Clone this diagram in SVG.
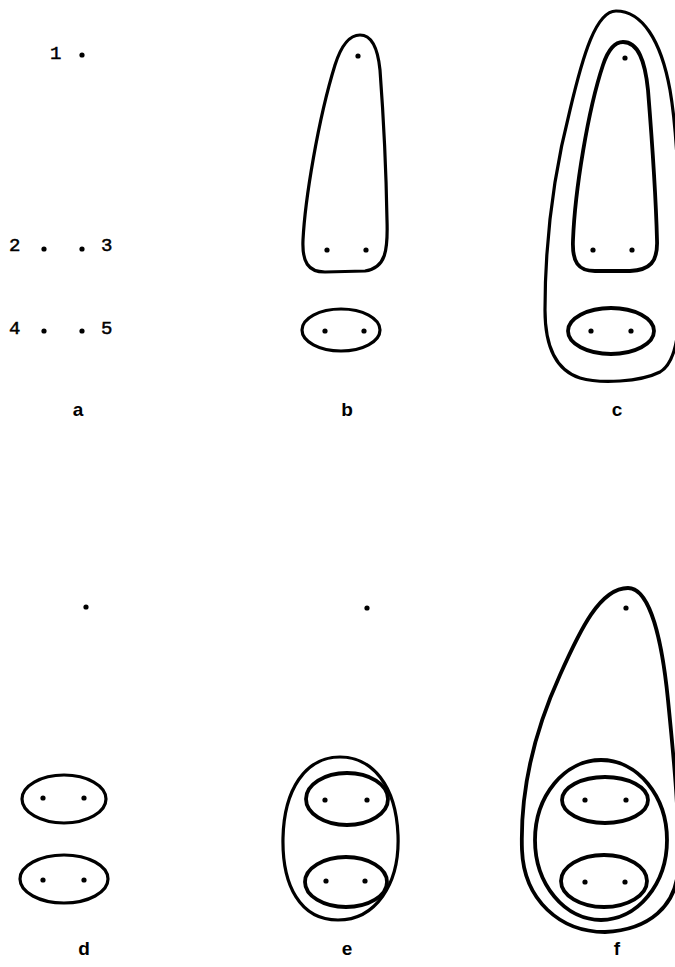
<svg xmlns="http://www.w3.org/2000/svg" width="675" height="967" viewBox="0 0 675 967">
<style>
.ln{fill:none;stroke:#000;stroke-width:3.2;stroke-linejoin:round}
.thk{stroke-width:3.8}
.dot{fill:#000}
.num{font-family:"Liberation Mono","Courier New",monospace;font-size:19px;fill:#000;stroke:#000;stroke-width:0.5}
.lab{font-family:"Liberation Sans",Arial,sans-serif;font-weight:bold;font-size:19px;fill:#000;text-anchor:middle}
</style>
<rect width="675" height="967" fill="#fff"/>
<g id="panel-a">
<text class="num" x="50" y="59">1</text>
<circle class="dot" cx="82" cy="55" r="2.6"/>
<text class="num" x="9" y="251">2</text>
<circle class="dot" cx="44" cy="249" r="2.6"/>
<circle class="dot" cx="82" cy="249" r="2.6"/>
<text class="num" x="101" y="251">3</text>
<text class="num" x="9" y="334">4</text>
<circle class="dot" cx="44" cy="331" r="2.6"/>
<circle class="dot" cx="82" cy="331" r="2.6"/>
<text class="num" x="101" y="334">5</text>
<text class="lab" x="78" y="416">a</text>
</g>
<g id="panel-b">
<path class="ln" d="M360 35 C372 35 378 50 380 70 C383 110 386 160 387 220 C388 250 386 268 365 271 L325 272 C308 272 302 262 303 240 C305 200 318 120 335 65 C342 43 350 35 360 35 Z"/>
<circle class="dot" cx="358" cy="56" r="2.6"/>
<circle class="dot" cx="327" cy="250" r="2.6"/>
<circle class="dot" cx="366" cy="250" r="2.6"/>
<ellipse class="ln" cx="341" cy="330" rx="39" ry="21"/>
<circle class="dot" cx="325" cy="331" r="2.6"/>
<circle class="dot" cx="364" cy="331" r="2.6"/>
<text class="lab" x="347" y="416">b</text>
</g>
<g id="panel-c">
<path class="ln" d="M616 11 C642 11 661 40 670 90 C677 130 680 200 680 260 C680 320 680 360 660 372 C640 382 600 384 580 378 C555 370 545 345 545 310 C545 250 552 180 570 110 C583 55 596 11 616 11 Z"/>
<path class="ln thk" d="M623 42 C638 42 645 60 648 90 C652 140 656 200 657 240 C658 262 650 270 630 271 L595 271 C578 271 572 262 573 240 C575 190 588 110 603 65 C608 50 615 42 623 42 Z"/>
<circle class="dot" cx="625" cy="58" r="2.6"/>
<circle class="dot" cx="593" cy="250" r="2.6"/>
<circle class="dot" cx="632" cy="250" r="2.6"/>
<ellipse class="ln thk" cx="611" cy="331" rx="43" ry="23"/>
<circle class="dot" cx="591" cy="331" r="2.6"/>
<circle class="dot" cx="631" cy="331" r="2.6"/>
<text class="lab" x="617" y="416">c</text>
</g>
<g id="panel-d">
<circle class="dot" cx="86" cy="607" r="2.6"/>
<ellipse class="ln" cx="64" cy="799" rx="42" ry="24"/>
<circle class="dot" cx="43" cy="798" r="2.6"/>
<circle class="dot" cx="84" cy="798" r="2.6"/>
<ellipse class="ln" cx="64" cy="879" rx="44" ry="24"/>
<circle class="dot" cx="43" cy="880" r="2.6"/>
<circle class="dot" cx="84" cy="880" r="2.6"/>
<text class="lab" x="84" y="955">d</text>
</g>
<g id="panel-e">
<circle class="dot" cx="367" cy="608" r="2.6"/>
<path class="ln" d="M340 757 C372 757 396 785 398 835 C400 885 375 920 338 920 C300 920 282 885 283 838 C284 790 305 757 340 757 Z"/>
<ellipse class="ln thk" cx="347" cy="799" rx="41" ry="26"/>
<circle class="dot" cx="325" cy="800" r="2.6"/>
<circle class="dot" cx="367" cy="800" r="2.6"/>
<ellipse class="ln thk" cx="346" cy="882" rx="41" ry="25"/>
<circle class="dot" cx="326" cy="881" r="2.6"/>
<circle class="dot" cx="365" cy="881" r="2.6"/>
<text class="lab" x="347" y="955">e</text>
</g>
<g id="panel-f">
<path class="ln thk" d="M628 588 C650 588 662 640 668 700 C674 760 680 820 678 870 C676 905 650 930 605 932 C560 932 524 900 522 850 C520 790 535 730 560 675 C580 630 600 588 628 588 Z"/>
<circle class="dot" cx="626" cy="608" r="2.6"/>
<ellipse class="ln thk" cx="601" cy="840" rx="66" ry="80"/>
<ellipse class="ln thk" cx="605" cy="800" rx="43" ry="23"/>
<circle class="dot" cx="585" cy="800" r="2.6"/>
<circle class="dot" cx="626" cy="800" r="2.6"/>
<ellipse class="ln thk" cx="604" cy="881" rx="43" ry="26"/>
<circle class="dot" cx="585" cy="882" r="2.6"/>
<circle class="dot" cx="625" cy="882" r="2.6"/>
<text class="lab" x="617" y="955">f</text>
</g>
<g id="connectors"></g>
</svg>
